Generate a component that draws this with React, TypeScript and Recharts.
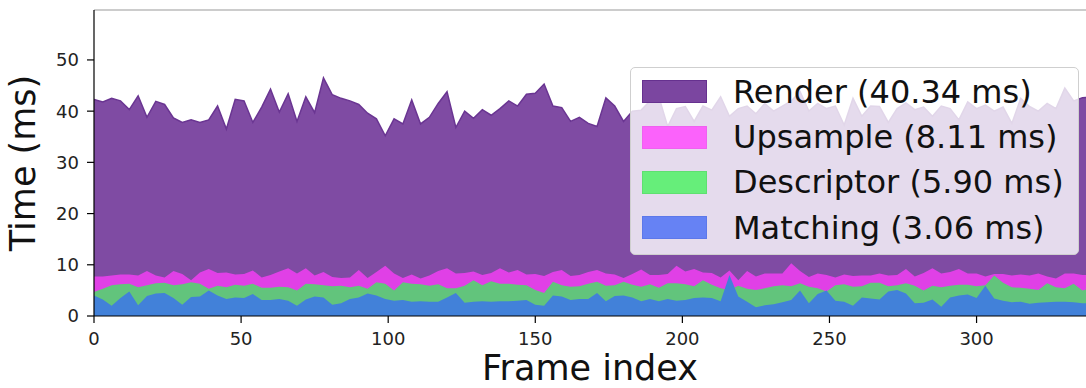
import { AreaChart, Area, XAxis, YAxis, Legend, Label, ReferenceLine } from "recharts";

// frame index (every 3rd frame)
const FRAMES = [
  0, 3, 6, 9, 12, 15, 18, 21, 24, 27, 30, 33, 36, 39, 42, 45, 48, 51, 54, 57,
  60, 63, 66, 69, 72, 75, 78, 81, 84, 87, 90, 93, 96, 99, 102, 105, 108, 111, 114, 117,
  120, 123, 126, 129, 132, 135, 138, 141, 144, 147, 150, 153, 156, 159, 162, 165, 168, 171, 174, 177,
  180, 183, 186, 189, 192, 195, 198, 201, 204, 207, 210, 213, 216, 219, 222, 225, 228, 231, 234, 237,
  240, 243, 246, 249, 252, 255, 258, 261, 264, 267, 270, 273, 276, 279, 282, 285, 288, 291, 294, 297,
  300, 303, 306, 309, 312, 315, 318, 321, 324, 327, 330, 333, 336, 339,
];

// cumulative tops (ms)
const RENDER = [
  42.3, 41.8, 42.5, 42.0, 40.3, 43.0, 38.8, 41.9, 41.3, 38.7, 37.8, 38.3, 37.8, 38.3, 41.0, 36.5, 42.3, 42.0, 37.8, 40.8,
  44.3, 39.8, 43.4, 38.0, 42.8, 39.7, 46.5, 43.2, 42.5, 42.0, 41.3, 39.6, 38.5, 35.2, 38.5, 37.5, 42.2, 37.5, 38.8, 41.5,
  43.8, 36.8, 40.0, 38.6, 40.3, 39.2, 40.5, 42.0, 41.0, 43.3, 43.5, 45.3, 41.0, 40.7, 38.0, 38.8, 37.6, 37.0, 42.6, 41.0,
  38.0, 40.0, 40.2, 42.0, 42.8, 37.0, 40.5, 40.9, 38.0, 41.0, 40.2, 42.8, 39.0, 40.5, 41.0, 39.5, 41.5, 40.0, 41.0, 42.0,
  43.8, 40.0, 41.5, 40.5, 41.0, 37.3, 42.5, 39.0, 41.0, 40.9, 37.8, 40.5, 41.6, 40.3, 40.8, 39.0, 41.0, 40.5, 38.3, 41.8,
  40.5, 41.2, 40.0, 40.8, 37.6, 42.5, 40.9, 40.0, 41.5, 40.5, 44.5, 42.0, 42.6, 42.8,
];
const UPSAMPLE = [
  7.7, 7.7, 7.9, 8.1, 8.1, 7.9, 8.8, 7.9, 7.5, 8.8, 8.2, 7.0, 8.5, 9.2, 8.4, 8.5, 8.1, 8.2, 8.9, 7.5,
  8.0, 8.7, 9.3, 8.3, 9.3, 7.9, 8.6, 7.6, 7.4, 7.5, 9.0, 7.4, 8.6, 9.8, 8.3, 7.4, 8.1, 7.3, 7.9, 8.8,
  9.3, 8.3, 8.4, 8.7, 8.0, 8.4, 9.3, 8.5, 9.0, 8.1, 8.2, 7.8, 8.6, 9.0, 7.8, 8.0, 8.6, 9.0, 8.3, 8.1,
  7.4, 8.2, 9.1, 8.0, 8.0, 8.2, 9.8, 8.7, 9.2, 8.5, 8.4, 7.5, 8.9, 7.0, 8.8, 7.7, 8.3, 8.3, 8.3, 10.3,
  8.8, 7.6, 8.3, 8.0, 7.5, 8.1, 7.8, 7.9, 7.9, 8.3, 7.9, 8.0, 9.2, 7.7, 8.4, 9.3, 8.3, 8.6, 9.2, 8.3,
  8.3, 7.7, 8.2, 8.2, 7.9, 8.1, 7.9, 8.3, 7.7, 7.3, 8.3, 8.3, 8.0, 8.0,
];
const DESCRIPTOR = [
  4.7, 5.3, 6.0, 6.2, 6.3, 5.6, 6.0, 6.4, 6.5, 6.0, 6.2, 6.6, 6.3, 5.3, 5.9, 5.6, 6.1, 5.9, 6.3, 5.5,
  5.5, 5.7, 5.6, 5.0, 6.3, 6.2, 6.0, 5.8, 5.9, 5.6, 5.9, 5.3, 6.6, 6.3, 5.0, 6.6, 6.3, 6.2, 5.9, 6.2,
  5.4, 5.4, 5.9, 7.0, 6.0, 6.8, 6.3, 6.3, 6.1, 6.0, 5.1, 4.5, 6.7, 6.0, 5.7, 5.8, 6.3, 6.7, 5.9, 6.0,
  6.7, 6.1, 5.7, 6.2, 5.5, 6.4, 6.4, 6.2, 5.8, 7.0, 6.1, 5.4, 5.1, 5.9, 5.3, 5.1, 5.4, 5.8, 6.0, 5.8,
  6.4, 5.7, 5.4, 4.8, 6.0, 6.2, 5.7, 5.8, 6.5, 6.5, 5.8, 6.0, 6.4, 5.9, 5.0, 5.9, 5.6, 5.9, 6.1, 6.1,
  5.8, 6.0, 7.9, 6.5, 5.6, 5.5, 5.3, 5.1, 6.4, 5.6, 5.4, 6.3, 5.0, 5.4,
];
const MATCHING = [
  4.0, 3.2, 2.0, 3.5, 4.8, 2.1, 3.9, 4.4, 4.5, 3.5, 2.2, 3.7, 3.8, 5.0, 4.0, 3.3, 3.6, 3.5, 4.3, 3.1,
  3.1, 3.3, 3.0, 2.0, 3.2, 3.8, 3.6, 2.2, 2.5, 3.3, 3.6, 4.4, 4.0, 3.3, 3.0, 3.1, 2.8, 2.9, 2.8, 2.8,
  3.6, 4.5, 2.6, 2.8, 2.9, 2.8, 2.9, 2.9, 3.0, 3.1, 2.2, 2.0, 4.0, 3.8, 3.1, 3.3, 3.3, 4.5, 2.9, 3.9,
  4.0, 3.6, 2.9, 3.3, 2.9, 3.3, 3.0, 3.1, 3.5, 3.6, 3.5, 2.9, 8.0, 3.8, 2.8, 1.7, 2.1, 2.3, 2.7, 3.1,
  5.0, 2.5, 4.3, 5.0, 3.0, 2.8, 2.0, 3.6, 3.4, 3.2, 4.8, 5.1, 4.4, 2.5, 2.6, 3.2, 1.8, 3.6, 4.0, 4.2,
  3.5, 5.9, 3.4, 3.0, 2.7, 2.8, 2.4, 2.6, 2.7, 2.8, 2.8, 2.7, 2.5, 2.5,
];

const SERIES_NAMES = ["Render", "Upsample", "Descriptor", "Matching"];
const SERIES_MEANS = ["40.34", "8.11", "5.90", "3.06"];
const X_TICKS = [0, 50, 100, 150, 200, 250, 300];
const Y_TICKS = [0, 10, 20, 30, 40, 50];

const KEYS = ["render", "upsample", "descriptor", "matching"];
const FILLS = ["#7f4ba3", "#e040e6", "#62c47c", "#4281d9"];
const PATCH = ["#7b46a0", "#fb62fb", "#66ee7a", "#6682f4"];
const PATCH_EDGE = ["#66318f", "#f060f0", "#5ee070", "#5c78ea"];

const FONT = "'DejaVu Sans', sans-serif";

const data = FRAMES.map((frame, i) => ({
  frame,
  render: RENDER[i],
  upsample: UPSAMPLE[i],
  descriptor: DESCRIPTOR[i],
  matching: MATCHING[i],
}));

const LegendBox = () => (
  <div
    style={{
      boxSizing: "border-box",
      width: 449,
      height: 188,
      border: "1px solid #cfcfcf",
      borderRadius: 5,
      background: "rgba(255,255,255,0.8)",
      paddingTop: 1,
      fontFamily: FONT,
    }}
  >
    {SERIES_NAMES.map((name, i) => (
      <div key={name} style={{ display: "flex", alignItems: "center", height: 45.4 }}>
        <div
          style={{
            boxSizing: "border-box",
            width: 65,
            height: 23,
            marginLeft: 11,
            background: PATCH[i],
            border: `1px solid ${PATCH_EDGE[i]}`,
          }}
        />
        <span style={{ marginLeft: 26, fontSize: 32, color: "#111", whiteSpace: "nowrap" }}>
          {`${name} (${SERIES_MEANS[i]} ms)`}
        </span>
      </div>
    ))}
  </div>
);

const App = () => {
  return (
    <div style={{ position: "absolute", left: 0, top: 0 }}>
      <AreaChart
        width={1086}
        height={388}
        data={data}
        margin={{ top: 10, right: 0, left: 0, bottom: 0 }}
        style={{ fontFamily: FONT }}
      >
        <XAxis
          dataKey="frame"
          type="number"
          domain={[0, 337.2]}
          allowDataOverflow
          ticks={X_TICKS}
          height={72}
          tickSize={7}
          tickMargin={9}
          axisLine={{ stroke: "#000", strokeWidth: 1.2 }}
          tickLine={{ stroke: "#000", strokeWidth: 1.2 }}
          tick={{ fontSize: 18, fill: "#222", fontFamily: FONT }}
        >
          <Label value="Frame index" position="insideBottom" offset={8} style={{ fontSize: 35, fill: "#111", fontFamily: FONT }} />
        </XAxis>
        <YAxis
          type="number"
          domain={[0, 59.75]}
          allowDataOverflow
          ticks={Y_TICKS}
          width={94}
          tickSize={7}
          tickMargin={8}
          axisLine={{ stroke: "#000", strokeWidth: 1.2 }}
          tickLine={{ stroke: "#000", strokeWidth: 1.2 }}
          tick={{ fontSize: 18, fill: "#222", fontFamily: FONT }}
        >
          <Label
            value="Time (ms)"
            angle={-90}
            position="insideLeft"
            offset={23}
            style={{ fontSize: 35, fill: "#111", fontFamily: FONT, textAnchor: "middle" }}
          />
        </YAxis>
        {KEYS.map((key, i) => (
          <Area
            key={key}
            type="linear"
            dataKey={key}
            name={SERIES_NAMES[i]}
            fill={FILLS[i]}
            fillOpacity={1}
            stroke={i === 0 ? "#6a3592" : "none"}
            strokeWidth={i === 0 ? 1.5 : 0}
            dot={false}
            activeDot={false}
            isAnimationActive={false}
          />
        ))}
        <ReferenceLine y={59.75} stroke="#9a9a9a" strokeWidth={1.2} />
        <Legend
          layout="horizontal"
          verticalAlign="middle"
          align="center"
          wrapperStyle={{ left: 630, top: 67, width: 449, height: 188 }}
          content={() => <LegendBox />}
        />
      </AreaChart>
    </div>
  );
};

export default App;
